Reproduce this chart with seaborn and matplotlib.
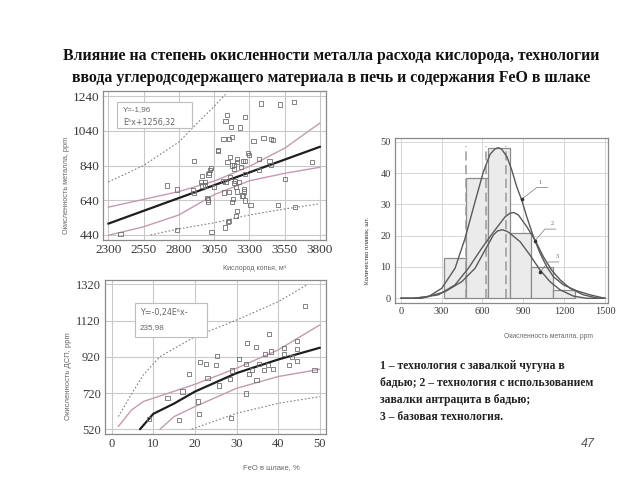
import numpy as np
import pandas as pd
import matplotlib
matplotlib.use("Agg")
import matplotlib.pyplot as plt
import matplotlib.patches as mpatches
from matplotlib.ticker import MultipleLocator
import seaborn as sns

# ---------------- data ----------------
# Chart 1: oxygen (m3) vs metal oxidation (ppm)
o2_x = [2387, 2717, 2785, 2785, 2905, 2898, 2909, 2963, 2956, 2968, 2987, 2984,
        3010, 3015, 3022, 3029, 2999, 3006, 3008, 3031, 3048, 3076, 3078, 3113,
        3118, 3130, 3116, 3158, 3177, 3130, 3141, 3170, 3125, 3149, 3156, 3144,
        3160, 3160, 3153, 3177, 3188, 3188, 3184, 3179, 3191, 3195, 3202, 3209,
        3209, 3205, 3209, 3214, 3226, 3235, 3242, 3245, 3254, 3256, 3266, 3270,
        3266, 3263, 3263, 3268, 3287, 3296, 3308, 3329, 3367, 3369, 3381, 3399,
        3442, 3453, 3451, 3467, 3505, 3517, 3554, 3615, 3622, 3745]
o2_y = [444, 725, 702, 469, 865, 696, 683, 780, 745, 725, 745, 725,
        788, 799, 813, 828, 654, 644, 632, 457, 716, 929, 925, 749,
        685, 745, 991, 991, 1003, 1094, 1133, 1061, 483, 516, 521, 861,
        890, 774, 687, 840, 842, 822, 648, 632, 741, 749, 716, 690,
        580, 547, 877, 861, 743, 1059, 830, 667, 667, 867, 867, 1118,
        790, 706, 690, 638, 910, 900, 613, 982, 877, 813, 1197, 997,
        865, 842, 993, 989, 613, 1191, 760, 1207, 599, 861]
o2_fit_x = [2300, 3800]
o2_fit_y = [505, 948]
o2_ci_x = [2300, 2550, 2800, 3050, 3300, 3550, 3800]
o2_ci_up = [600, 645, 690, 750, 835, 940, 1085]
o2_ci_lo = [438, 487, 555, 672, 752, 795, 830]
o2_pi_up_x = [2300, 2550, 2800, 2950, 3050, 3130]
o2_pi_up_y = [745, 840, 975, 1100, 1180, 1250]
o2_pi_lo_x = [2600, 2800, 3050, 3300, 3550, 3800]
o2_pi_lo_y = [440, 475, 510, 555, 590, 620]

# Chart 2: FeO in slag (%) vs EAF oxidation (ppm)
feo_x = [9.0, 13.4, 17.0, 18.6, 16.2, 20.8, 21.0, 21.2, 22.6, 23.0, 25.0, 25.2,
         25.8, 28.4, 28.6, 28.8, 30.6, 32.2, 32.3, 32.6, 32.9, 33.8, 34.6, 34.8,
         35.4, 36.6, 36.9, 37.5, 37.7, 38.2, 38.8, 41.4, 41.4, 42.5, 43.4, 44.6,
         44.5, 44.6, 46.5, 48.7]
feo_y = [577, 691, 728, 823, 572, 673, 605, 890, 880, 805, 875, 926,
         761, 796, 584, 844, 906, 879, 717, 994, 825, 847, 976, 790,
         882, 847, 936, 875, 1046, 949, 853, 967, 936, 875, 919, 1007,
         965, 899, 1200, 847]
feo_fit_x = [6.8, 10, 15, 20, 30, 40, 50]
feo_fit_y = [520, 605, 662, 728, 830, 905, 970]
feo_ci_up_x = [1.6, 4.8, 7.6, 14, 20, 30, 40, 50]
feo_ci_up_y = [535, 627, 673, 722, 768, 857, 958, 1096]
feo_ci_lo_x = [11.6, 15, 20, 30, 40, 50]
feo_ci_lo_y = [520, 590, 645, 746, 811, 851]
feo_pi_up_x = [1.6, 4.4, 7.6, 11.6, 20, 30, 40, 46.8]
feo_pi_up_y = [590, 700, 820, 921, 1031, 1123, 1224, 1316]
feo_pi_lo_x = [19.2, 30, 40, 50]
feo_pi_lo_y = [520, 608, 663, 700]

# Chart 3: histogram of oxidation (ppm) and three distribution curves
bin_edges = [320, 480, 640, 800, 960, 1120, 1280]
bin_heights = [13, 38.5, 48, 21, 10, 2.5]
dash_x = [480, 625, 773]
c1_x = [0, 81, 203, 301, 399, 472, 546, 607, 656, 692, 717, 741, 780, 815, 852, 888,
        925, 974, 1023, 1072, 1121, 1194, 1292, 1390, 1488, 1500]
c1_y = [0, 0, 0.5, 3.2, 9.6, 19.1, 30.9, 40.4, 46.0, 47.7, 48.1, 47.6, 45.2, 41.0,
        35.6, 31.4, 26.1, 19.7, 14.4, 10.1, 6.9, 4.3, 2.4, 1.1, 0.1, 0]
c2_x = [0, 105, 277, 399, 497, 595, 692, 766, 803, 830, 864, 925, 986, 1047, 1108,
        1170, 1243, 1341, 1439, 1500]
c2_y = [0, 0, 1.1, 4.3, 9.6, 16.0, 21.8, 26.0, 27.2, 27.4, 26.6, 22.9, 18.6, 13.3,
        9.0, 5.9, 3.2, 1.1, 0.1, 0]
c3_x = [0, 154, 325, 448, 546, 619, 680, 710, 745, 780, 803, 876, 949, 1023, 1096,
        1170, 1268, 1365, 1500]
c3_y = [0, 0, 2.1, 5.3, 9.6, 15.4, 20.2, 21.5, 21.9, 21.4, 20.7, 18.1, 13.8, 9.0,
        5.3, 2.7, 0.7, 0, 0]

title_lines = ["Влияние на степень окисленности металла расхода кислорода, технологии",
               "ввода углеродсодержащего материала в печь и содержания FeO в шлаке"]
legend_lines = ["1 – технология с завалкой чугуна в",
                "бадью; 2 – технология с использованием",
                "завалки антрацита в бадью;",
                "3 – базовая технология."]

# ---------------- style ----------------
sns.set_style("white")
plt.rcParams['font.family'] = ['DejaVu Sans']

W, H = 640, 480
fig = plt.figure(figsize=(6.4, 4.8), dpi=100)
fig.patch.set_facecolor("white")

def fx(px):
    return px / W

def fy(py):
    return 1 - py / H

SERIF = ['Liberation Serif', 'DejaVu Serif']
SANS = ['Liberation Sans', 'DejaVu Sans']
GRID = '#c9c9c9'
PINK = '#c49ab0'
DOT = '#808080'
MK = '#707070'

def style_axes(ax, xticks, yticks, fs, minor_x, minor_y):
    ax.set_xticks(xticks)
    ax.set_yticks(yticks)
    ax.xaxis.set_minor_locator(MultipleLocator(minor_x))
    ax.yaxis.set_minor_locator(MultipleLocator(minor_y))
    ax.tick_params(axis='both', which='major', direction='in', length=3, width=0.6,
                   color='#888888', labelsize=fs, labelcolor='#3a3a3a', pad=3)
    ax.tick_params(axis='both', which='minor', direction='in', length=1.8, width=0.5,
                   color='#999999')
    for lab in ax.get_xticklabels() + ax.get_yticklabels():
        lab.set_family(SERIF)
    ax.grid(True, which='major', color=GRID, lw=0.8)
    ax.set_axisbelow(True)
    for s in ax.spines.values():
        s.set_color('#8a8a8a')
        s.set_linewidth(0.9)
    ax.set_xlabel('')
    ax.set_ylabel('')

# ---------------- chart 1 ----------------
ax1 = fig.add_axes([fx(103.3), fy(240), fx(325.7) - fx(103.3), (240 - 91) / H])
df1 = pd.DataFrame({'x': o2_x, 'y': o2_y})
sns.lineplot(x=o2_pi_up_x, y=o2_pi_up_y, ax=ax1, color=DOT, lw=0.8, linestyle=(0, (1.5, 1.8)))
sns.lineplot(x=o2_pi_lo_x, y=o2_pi_lo_y, ax=ax1, color=DOT, lw=0.8, linestyle=(0, (1.5, 1.8)))
sns.lineplot(x=o2_ci_x, y=o2_ci_up, ax=ax1, color=PINK, lw=1.0)
sns.lineplot(x=o2_ci_x, y=o2_ci_lo, ax=ax1, color=PINK, lw=1.0)
sns.lineplot(x=o2_fit_x, y=o2_fit_y, ax=ax1, color='#1e1e1e', lw=1.6)
sns.scatterplot(data=df1, x='x', y='y', ax=ax1, marker='s', s=9, facecolor='none',
                edgecolor=MK, linewidth=0.6, zorder=5)
ax1.set_xlim(2265, 3840)
ax1.set_ylim(411, 1269)
style_axes(ax1, [2300, 2550, 2800, 3050, 3300, 3550, 3800], [440, 640, 840, 1040, 1240],
           9.5, 50, 40)

# ---------------- chart 2 ----------------
ax2 = fig.add_axes([fx(105), fy(434.3), fx(325.7) - fx(105), (434.3 - 280) / H])
df2 = pd.DataFrame({'x': feo_x, 'y': feo_y})
sns.lineplot(x=feo_pi_up_x, y=feo_pi_up_y, ax=ax2, color=DOT, lw=0.8, linestyle=(0, (1.5, 1.8)))
sns.lineplot(x=feo_pi_lo_x, y=feo_pi_lo_y, ax=ax2, color=DOT, lw=0.8, linestyle=(0, (1.5, 1.8)))
sns.lineplot(x=feo_ci_up_x, y=feo_ci_up_y, ax=ax2, color=PINK, lw=1.0)
sns.lineplot(x=feo_ci_lo_x, y=feo_ci_lo_y, ax=ax2, color=PINK, lw=1.0)
sns.lineplot(x=feo_fit_x, y=feo_fit_y, ax=ax2, color='#1e1e1e', lw=1.6)
sns.scatterplot(data=df2, x='x', y='y', ax=ax2, marker='s', s=9, facecolor='none',
                edgecolor=MK, linewidth=0.6, zorder=5)
ax2.set_xlim(-1.6, 51.4)
ax2.set_ylim(492, 1344)
style_axes(ax2, [0, 10, 20, 30, 40, 50], [520, 720, 920, 1120, 1320], 9, 2, 40)

# ---------------- chart 3 ----------------
ax3 = fig.add_axes([fx(395), fy(303.3), fx(608.3) - fx(395), (303.3 - 138.3) / H])
centers = [(bin_edges[i] + bin_edges[i + 1]) / 2 for i in range(len(bin_heights))]
sns.histplot(x=centers, weights=bin_heights, bins=bin_edges, ax=ax3, color='#ebebeb',
             edgecolor='#8c8c8c', linewidth=0.9, alpha=1, zorder=2)
for xd in dash_x:
    ax3.plot([xd, xd], [0, 48.5], color='#9a9a9a', lw=1.1, linestyle=(0, (6, 3)), zorder=3)
for cx, cy in [(c1_x, c1_y), (c2_x, c2_y), (c3_x, c3_y)]:
    sns.lineplot(x=cx, y=cy, ax=ax3, color='#5a5a5a', lw=1.0, zorder=4)
ax3.set_xlim(-42, 1524)
ax3.set_ylim(-1.6, 51.1)
style_axes(ax3, [0, 300, 600, 900, 1200, 1500], [0, 10, 20, 30, 40, 50], 7.5, 50, 2)
ax3.grid(True, which='major', color='#d6d6d6', lw=0.7)

# curve labels with leader lines
for lab, pt, bend, tx in [("1", (890, 31.7), (1000, 35.4), (1008, 36.3)),
                          ("2", (986, 18.4), (1059, 22.1), (1100, 23.0)),
                          ("3", (1023, 8.3), (1082, 11.6), (1135, 12.5))]:
    ax3.plot([pt[0], bend[0], bend[0] + 80], [pt[1], bend[1], bend[1]], color='#777777',
             lw=0.5, zorder=6)
    ax3.plot([pt[0]], [pt[1]], marker='o', ms=1.6, color='#333333', zorder=7)
    ax3.text(tx[0], tx[1], lab, fontsize=4.5, color='#666666', family=SERIF,
             ha='left', va='bottom', zorder=7)

# ---------------- axis labels ----------------
lab_kw = dict(color='#666666', family=SANS)
fig.text(fx(67), fy(185), "Окисленность металла, ppm", rotation=90, fontsize=5.3,
         ha='center', va='center', **lab_kw)
fig.text(fx(255), fy(268), "Кислород копья, м³", fontsize=5, ha='center', va='center', **lab_kw)
fig.text(fx(68), fy(376), "Окисленность ДСП, ppm", rotation=90, fontsize=5.5,
         ha='center', va='center', **lab_kw)
fig.text(fx(271), fy(468), "FeO в шлаке, %", fontsize=5.5, ha='center', va='center', **lab_kw)
fig.text(fx(367), fy(250), "Количество плавок, шт.", rotation=90, fontsize=4.5,
         ha='center', va='center', color='#333333', family=SANS)
fig.text(fx(548), fy(336), "Окисленность металла, ppm", fontsize=4.8, ha='center',
         va='center', **lab_kw)

# equation boxes
fig.add_artist(mpatches.Rectangle((fx(117), fy(128)), fx(192) - fx(117), (128 - 102) / H,
                                  transform=fig.transFigure, facecolor='white',
                                  edgecolor='#bdbdbd', lw=0.8, zorder=10))
fig.text(fx(123), fy(110), "Y=-1,96", fontsize=5.8, color='#666666', va='center',
         family=SANS, zorder=11)
fig.text(fx(123), fy(122), "E⁵x+1256,32", fontsize=5.8, color='#666666', va='center',
         family=['DejaVu Sans'], zorder=11)
fig.add_artist(mpatches.Rectangle((fx(135), fy(337)), fx(207) - fx(135), (337 - 303) / H,
                                  transform=fig.transFigure, facecolor='white',
                                  edgecolor='#bdbdbd', lw=0.8, zorder=10))
fig.text(fx(140), fy(313), "Y=-0,24E⁵x-", fontsize=5.8, color='#666666', va='center',
         family=['DejaVu Sans'], zorder=11)
fig.text(fx(140), fy(328), "235,98", fontsize=5.8, color='#666666', va='center',
         family=SANS, zorder=11)

# ---------------- title and notes ----------------
for i, line in enumerate(title_lines):
    fig.text(fx(331), fy(56 + i * 21.5), line, fontsize=11.4, fontweight='bold',
             family=SERIF, ha='center', va='center', color='#111111')
for i, line in enumerate(legend_lines):
    fig.text(fx(380), fy(366 + i * 17), line, fontsize=8.4, fontweight='bold',
             family=SERIF, ha='left', va='center', color='#222222')
fig.text(fx(588), fy(444), "47", fontsize=9, color='#555555', family=SANS,
         ha='center', va='center', style='italic')

fig.savefig("out.png", dpi=100)
